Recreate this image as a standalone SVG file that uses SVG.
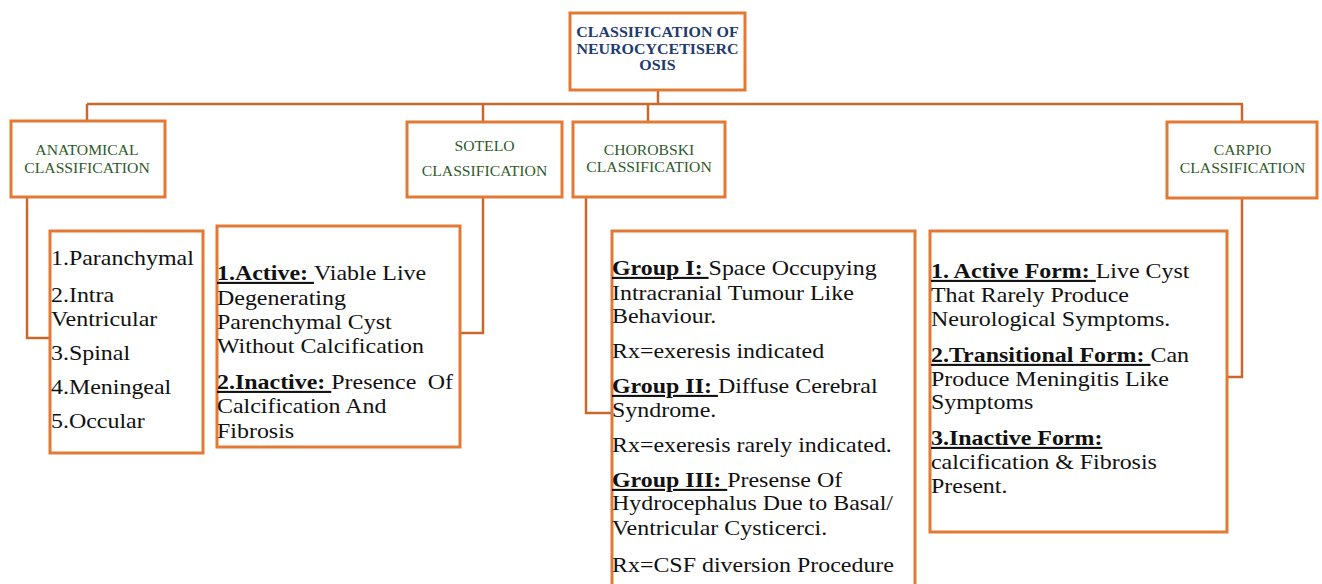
<svg xmlns="http://www.w3.org/2000/svg" width="1322" height="584" viewBox="0 0 1322 584">
<style>
.box{fill:#fff;stroke:#E27A36;stroke-width:3}
.con{fill:none;stroke:#C9672C;stroke-width:2.5}
.title{font-family:"Liberation Serif",serif;font-size:14px;font-weight:bold;fill:#1F3A6E;text-anchor:middle}
.hdr{font-family:"Liberation Serif",serif;font-size:14px;fill:#2F5A2A;text-anchor:middle}
.body{font-family:"Liberation Serif",serif;font-size:21px;fill:#111}
.b{font-weight:bold;text-decoration:underline}
</style>
<rect width="1322" height="584" fill="#fff"/>
<g id="connectors">
<path class="con" d="M658 90V104M87 104H1243M87 104V121M483 104V122M648 104V122M1242 104V122"/>
<path class="con" d="M27 197V338H50"/>
<path class="con" d="M483 197V333H460"/>
<path class="con" d="M586 197V413H612"/>
<path class="con" d="M1242 198V377H1227"/>
</g>
<g id="root">
<rect class="box" x="570" y="13" width="175" height="77"/>
<g transform="translate(657.5 0) scale(1.14 1)">
<text class="title" x="0" y="37">CLASSIFICATION OF</text>
<text class="title" x="0" y="54">NEUROCYCETISERC</text>
<text class="title" x="0" y="70">OSIS</text>
</g>
</g>
<g id="anatomical">
<rect class="box" x="11" y="121" width="154" height="76"/>
<g transform="translate(87 0) scale(1.12 1)">
<text class="hdr" x="0" y="155">ANATOMICAL</text>
<text class="hdr" x="0" y="173">CLASSIFICATION</text>
</g>
</g>
<g id="sotelo">
<rect class="box" x="407" y="122" width="155" height="75"/>
<g transform="translate(484.5 0) scale(1.12 1)">
<text class="hdr" x="0" y="151.5">SOTELO</text>
<text class="hdr" x="0" y="176">CLASSIFICATION</text>
</g>
</g>
<g id="chorobski">
<rect class="box" x="573" y="122" width="152" height="75"/>
<g transform="translate(649 0) scale(1.12 1)">
<text class="hdr" x="0" y="155">CHOROBSKI</text>
<text class="hdr" x="0" y="172">CLASSIFICATION</text>
</g>
</g>
<g id="carpio">
<rect class="box" x="1167" y="122" width="150" height="76"/>
<g transform="translate(1242.5 0) scale(1.12 1)">
<text class="hdr" x="0" y="155">CARPIO</text>
<text class="hdr" x="0" y="173">CLASSIFICATION</text>
</g>
</g>
<g id="anatomical-list">
<rect class="box" x="50" y="231" width="153" height="222"/>
<g transform="translate(51 0) scale(1.14 1)">
<text class="body" x="0" y="265">1.Paranchymal</text>
<text class="body" x="0" y="302">2.Intra</text>
<text class="body" x="0" y="326">Ventricular</text>
<text class="body" x="0" y="360">3.Spinal</text>
<text class="body" x="0" y="394">4.Meningeal</text>
<text class="body" x="0" y="428">5.Occular</text>
</g>
</g>
<g id="sotelo-detail">
<rect class="box" x="217" y="226" width="243" height="221"/>
<g transform="translate(217 0) scale(1.14 1)">
<text class="body" x="0" y="280"><tspan class="b">1.Active: </tspan>Viable Live</text>
<text class="body" x="0" y="305">Degenerating</text>
<text class="body" x="0" y="329">Parenchymal Cyst</text>
<text class="body" x="0" y="353">Without Calcification</text>
<text class="body" x="0" y="389"><tspan class="b">2.Inactive: </tspan>Presence</text>
<text class="body" x="207" y="389" text-anchor="end">Of</text>
<text class="body" x="0" y="413">Calcification And</text>
<text class="body" x="0" y="438">Fibrosis</text>
</g>
</g>
<g id="chorobski-detail">
<rect class="box" x="612" y="231" width="303" height="380"/>
<g transform="translate(612 0) scale(1.14 1)">
<text class="body" x="0" y="275"><tspan class="b">Group I: </tspan>Space Occupying</text>
<text class="body" x="0" y="300">Intracranial Tumour Like</text>
<text class="body" x="0" y="323">Behaviour.</text>
<text class="body" x="0" y="358">Rx=exeresis indicated</text>
<text class="body" x="0" y="393"><tspan class="b">Group II: </tspan>Diffuse Cerebral</text>
<text class="body" x="0" y="417">Syndrome.</text>
<text class="body" x="0" y="452">Rx=exeresis rarely indicated.</text>
<text class="body" x="0" y="487"><tspan class="b">Group III: </tspan>Presense Of</text>
<text class="body" x="0" y="510">Hydrocephalus Due to Basal/</text>
<text class="body" x="0" y="535">Ventricular Cysticerci.</text>
<text class="body" x="0" y="572">Rx=CSF diversion Procedure</text>
</g>
</g>
<g id="carpio-detail">
<rect class="box" x="930" y="231" width="297" height="301"/>
<g transform="translate(931 0) scale(1.14 1)">
<text class="body" x="0" y="278"><tspan class="b">1. Active Form: </tspan>Live Cyst</text>
<text class="body" x="0" y="302">That Rarely Produce</text>
<text class="body" x="0" y="326">Neurological Symptoms.</text>
<text class="body" x="0" y="362"><tspan class="b">2.Transitional Form: </tspan>Can</text>
<text class="body" x="0" y="386">Produce Meningitis Like</text>
<text class="body" x="0" y="409">Symptoms</text>
<text class="body" x="0" y="445"><tspan class="b">3.Inactive Form:</tspan></text>
<text class="body" x="0" y="469">calcification &amp; Fibrosis</text>
<text class="body" x="0" y="493">Present.</text>
</g>
</g>
</svg>
